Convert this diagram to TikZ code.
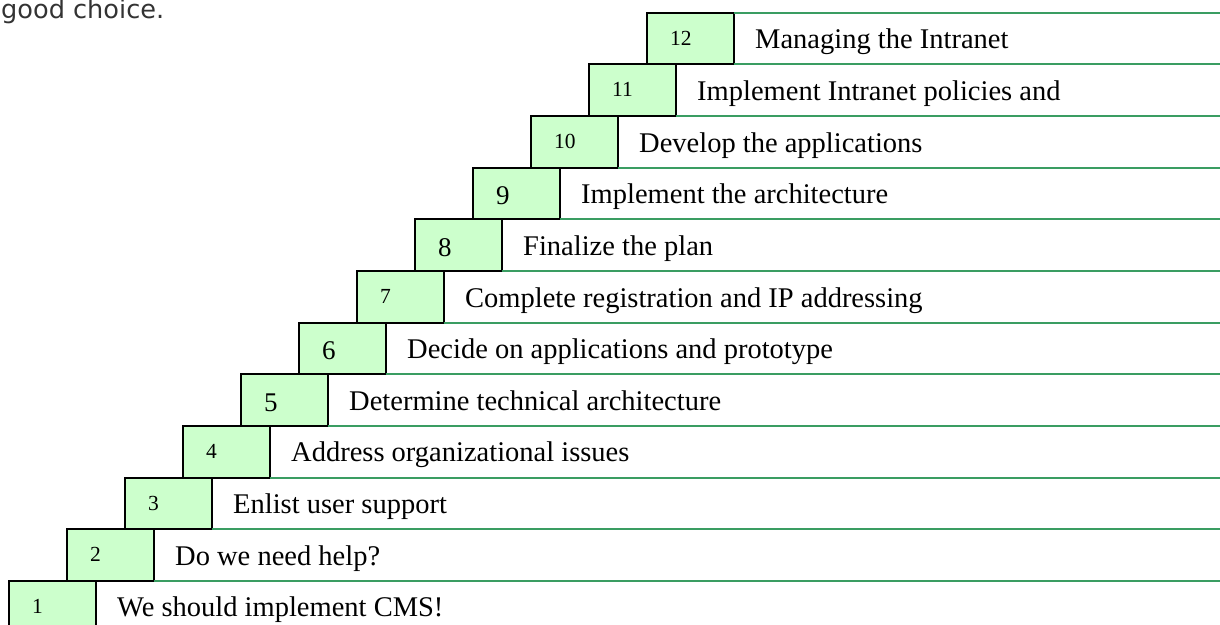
\documentclass[tikz,border=0pt]{standalone}
\usepackage{fontspec}
\setmainfont{Liberation Serif}
\newfontfamily\notefont{DejaVu Sans}
\usetikzlibrary{positioning}
\definecolor{stepfill}{HTML}{CCFFCC}
\definecolor{rowgreen}{HTML}{3A9D62}
\definecolor{notegray}{HTML}{333333}

\begin{document}
\begin{tikzpicture}[x=1pt,y=-1pt,
		stepbox/.style = {rectangle, draw=black, line width=2pt, fill=stepfill, inner sep=0pt, outer sep=0pt, minimum width=87pt, minimum height=51.66pt},
		small num/.style = {font=\fontsize{21.5}{25}\selectfont, inner sep=0pt, anchor=base west},
		big num/.style = {font=\fontsize{27}{31}\selectfont, inner sep=0pt, anchor=base west},
		step text/.style = {font=\fontsize{28.5}{34}\selectfont, inner sep=0pt, anchor=base west},
		row line/.style = {draw=rowgreen, line width=2pt}]
		
		\useasboundingbox (0,0) rectangle (1220,624);
		\clip (0,0) rectangle (1220,624);
		\coordinate (right edge) at (1220,0);
		
		\node[font=\notefont\fontsize{25.6}{30}\selectfont, text=notegray, inner sep=0pt, anchor=base west] (note) at (1,18.5) {good choice.};
		
		\node[stepbox, anchor=north west] (s1) at (9,580.96) {};
		\node[stepbox] [above right=0pt and -29pt of s1] (s2) {};
		\node[stepbox] [above right=0pt and -29pt of s2] (s3) {};
		\node[stepbox] [above right=0pt and -29pt of s3] (s4) {};
		\node[stepbox] [above right=0pt and -29pt of s4] (s5) {};
		\node[stepbox] [above right=0pt and -29pt of s5] (s6) {};
		\node[stepbox] [above right=0pt and -29pt of s6] (s7) {};
		\node[stepbox] [above right=0pt and -29pt of s7] (s8) {};
		\node[stepbox] [above right=0pt and -29pt of s8] (s9) {};
		\node[stepbox] [above right=0pt and -29pt of s9] (s10) {};
		\node[stepbox] [above right=0pt and -29pt of s10] (s11) {};
		\node[stepbox] [above right=0pt and -29pt of s11] (s12) {};
		
		\node[small num] (n1) at ([shift={(23,32.5)}]s1.north west) {1};
		\node[small num] (n2) at ([shift={(23,32.5)}]s2.north west) {2};
		\node[small num] (n3) at ([shift={(23,32.5)}]s3.north west) {3};
		\node[small num] (n4) at ([shift={(23,32.5)}]s4.north west) {4};
		\node[big num] (n5) at ([shift={(23,37)}]s5.north west) {5};
		\node[big num] (n6) at ([shift={(23,37)}]s6.north west) {6};
		\node[small num] (n7) at ([shift={(23,32.5)}]s7.north west) {7};
		\node[big num] (n8) at ([shift={(23,37)}]s8.north west) {8};
		\node[big num] (n9) at ([shift={(23,37)}]s9.north west) {9};
		\node[small num] (n10) at ([shift={(23,32.5)}]s10.north west) {10};
		\node[small num] (n11) at ([shift={(23,32.5)}]s11.north west) {11};
		\node[small num] (n12) at ([shift={(23,32.5)}]s12.north west) {12};
		
		\node[step text] (t1) at ([shift={(21,36)}]s1.north east) {We should implement CMS!};
		\node[step text] (t2) at ([shift={(21,36)}]s2.north east) {Do we need help?};
		\node[step text] (t3) at ([shift={(21,36)}]s3.north east) {Enlist user support};
		\node[step text] (t4) at ([shift={(21,36)}]s4.north east) {Address organizational issues};
		\node[step text] (t5) at ([shift={(21,36)}]s5.north east) {Determine technical architecture};
		\node[step text] (t6) at ([shift={(21,36)}]s6.north east) {Decide on applications and prototype};
		\node[step text] (t7) at ([shift={(21,36)}]s7.north east) {Complete registration and IP addressing};
		\node[step text] (t8) at ([shift={(21,36)}]s8.north east) {Finalize the plan};
		\node[step text] (t9) at ([shift={(21,36)}]s9.north east) {Implement the architecture};
		\node[step text] (t10) at ([shift={(21,36)}]s10.north east) {Develop the applications};
		\node[step text] (t11) at ([shift={(21,36)}]s11.north east) {Implement Intranet policies and};
		\node[step text] (t12) at ([shift={(21,36)}]s12.north east) {Managing the Intranet};
		
		\draw[row line] (s1.south east) -- (s1.south east -| right edge);
		\draw[row line] (s2.south east) -- (s2.south east -| right edge);
		\draw[row line] (s3.south east) -- (s3.south east -| right edge);
		\draw[row line] (s4.south east) -- (s4.south east -| right edge);
		\draw[row line] (s5.south east) -- (s5.south east -| right edge);
		\draw[row line] (s6.south east) -- (s6.south east -| right edge);
		\draw[row line] (s7.south east) -- (s7.south east -| right edge);
		\draw[row line] (s8.south east) -- (s8.south east -| right edge);
		\draw[row line] (s9.south east) -- (s9.south east -| right edge);
		\draw[row line] (s10.south east) -- (s10.south east -| right edge);
		\draw[row line] (s11.south east) -- (s11.south east -| right edge);
		\draw[row line] (s12.south east) -- (s12.south east -| right edge);
		\draw[row line] (s12.north east) -- (s12.north east -| right edge);
		\end{tikzpicture}
\end{document}
